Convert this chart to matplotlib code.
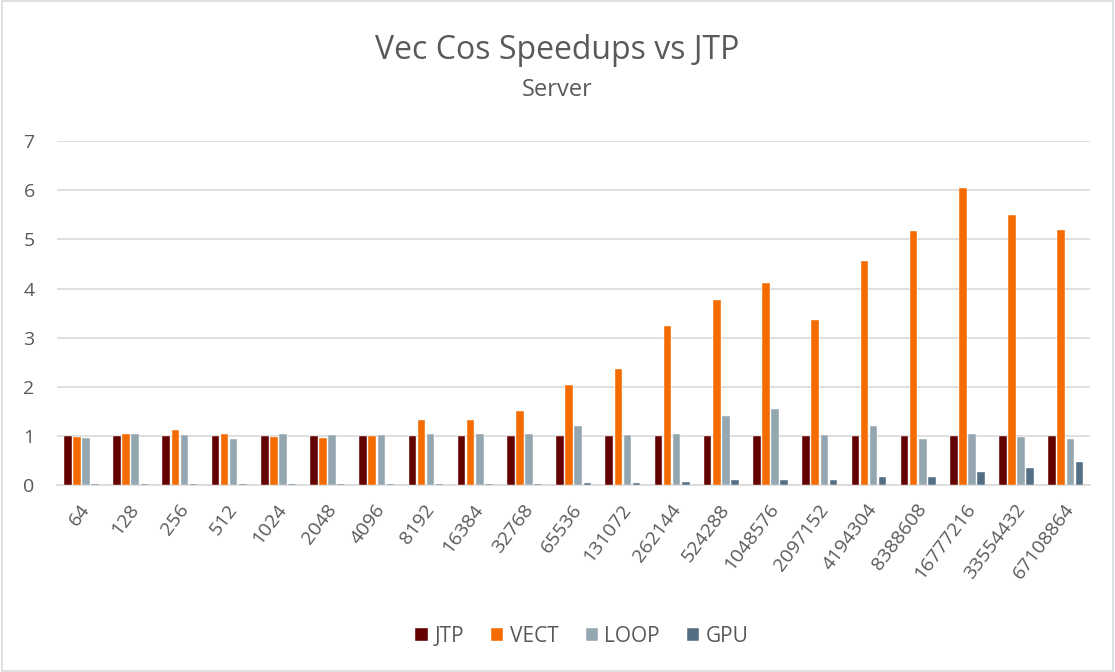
import numpy as np
import matplotlib.pyplot as plt
from matplotlib.patches import Rectangle

sizes = ["64", "128", "256", "512", "1024", "2048", "4096", "8192", "16384",
         "32768", "65536", "131072", "262144", "524288", "1048576", "2097152",
         "4194304", "8388608", "16777216", "33554432", "67108864"]

jtp = [1.0] * 21
vect = [0.98, 1.04, 1.12, 1.04, 0.98, 0.95, 1.0, 1.32, 1.32, 1.51, 2.03,
        2.36, 3.23, 3.77, 4.12, 3.37, 4.56, 5.18, 6.05, 5.49, 5.2]
loop = [0.95, 1.05, 1.03, 0.93, 1.05, 1.02, 1.02, 1.05, 1.05, 1.04, 1.2,
        1.02, 1.05, 1.41, 1.56, 1.02, 1.2, 0.94, 1.04, 0.99, 0.94]
gpu = [0.02, 0.02, 0.02, 0.02, 0.02, 0.02, 0.02, 0.02, 0.02, 0.03, 0.04,
       0.05, 0.07, 0.1, 0.11, 0.11, 0.16, 0.17, 0.27, 0.35, 0.47]

series = [("JTP", jtp, "#630000"), ("VECT", vect, "#F46B00"),
          ("LOOP", loop, "#94A7B1"), ("GPU", gpu, "#546F84")]

plt.rcParams['font.family'] = ['Open Sans', 'DejaVu Sans']
txt = "#595959"

fig = plt.figure(figsize=(11.15, 6.72), dpi=100)
ax = fig.add_axes([0.051, 0.278, 0.927, 0.512])

x = np.arange(len(sizes))
w = 0.155
step = 0.185
for i, (name, vals, col) in enumerate(series):
    ax.bar(x + (i - 1.5) * step, vals, w, color=col, label=name,
           edgecolor="white", linewidth=0.3, zorder=3)

ax.set_xlim(-0.5, len(sizes) - 0.5)
ax.set_ylim(0, 7)
ax.set_yticks(range(8))
ax.yaxis.grid(True, color="#D9D9D9", linewidth=1.2, zorder=0)
for s in ["top", "right", "left"]:
    ax.spines[s].set_visible(False)
ax.spines["bottom"].set_color("#D9D9D9")
ax.spines["bottom"].set_linewidth(1.2)
ax.tick_params(axis="both", length=0, colors=txt, labelsize=14)
ax.tick_params(axis="y", pad=16)
ax.tick_params(axis="x", pad=15)
ax.set_xticks(x + 0.1)
ax.set_xticklabels(sizes, rotation=53, ha="right", va="center",
                   rotation_mode="anchor")

fig.text(0.5, 0.925, "Vec Cos Speedups vs JTP", ha="center", va="center",
         fontsize=23, color=txt)
fig.text(0.5, 0.866, "Server", ha="center", va="center", fontsize=17, color=txt)

fig.legend(loc="center", bbox_to_anchor=(0.522, 0.053), ncol=4, frameon=False,
           fontsize=15, labelcolor=txt, handlelength=0.6, handleheight=0.6,
           handletextpad=0.3, columnspacing=1.3)

fig.patches.append(Rectangle((0.002, 0.002), 0.996, 0.996, transform=fig.transFigure,
                             fill=False, edgecolor="#D9D9D9", linewidth=1.2))

fig.savefig("out.png", dpi=100)
